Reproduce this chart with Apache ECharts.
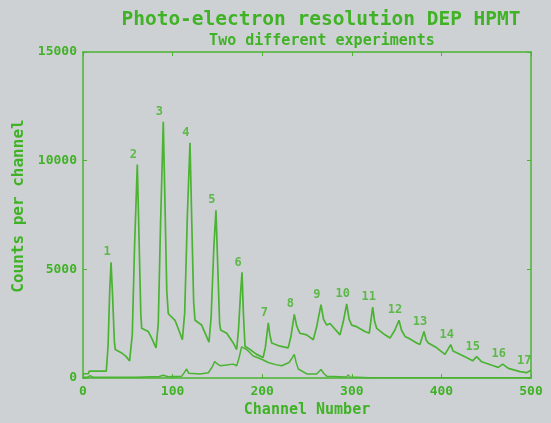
<!DOCTYPE html>
<html>
<head>
<meta charset="utf-8">
<script src="https://cdn.jsdelivr.net/npm/echarts@6/dist/echarts.min.js"></script>
<style>
html,body{margin:0;padding:0;background:#ced1d4;}
#c{width:551px;height:423px;}
</style>
</head>
<body>
<div id="c"></div>
<script>
// Upper spectrum (experiment 1)
var upperCh  = [0,6,7,26,28,29.8,31.3,33,35,36,42.7,48,52,55,57.5,60.6,62.5,64.5,65.5,72.9,77,81.5,84,86.5,89.6,91.5,93.5,95.2,102.7,107,110.9,113.5,116.5,119.4,121.5,123.5,125,132.4,137,140.6,143,146,148.4,150.5,152.5,153.6,160.4,167.7,171.5,173.5,176,177.5,179,180.8,186.4,193.8,201,203.5,206.8,208.5,210.6,219.9,229,232,235.8,238.5,240.3,242,249.7,257,261,265.6,268.5,272,275.7,286.8,290.5,294.3,297,299.9,305.4,314.7,319.5,323.3,325.5,327.8,337,342.6,348,352.7,355.5,359.4,365,372.4,376,380.6,383,385.4,394.8,404,410.4,413,415.2,428,434.9,439.4,445,458,463.5,468.4,474.7,487.7,495,500];
var upperVal = [200,200,320,320,1500,4000,5330,3800,1700,1320,1170,1000,790,2000,6000,9820,6500,3000,2290,2140,1800,1390,2500,7000,11795,8000,4000,2960,2660,2200,1765,3000,7500,10820,7000,3500,2660,2440,2000,1650,2800,6000,7720,5000,2500,2214,2065,1616,1316,2200,4000,4863,3000,1468,1316,1091,943,1400,2545,2000,1616,1468,1392,1900,2932,2400,2214,2065,1990,1765,2400,3381,2700,2438,2514,1990,2600,3412,2700,2438,2366,2142,2065,3264,2600,2290,1990,1841,2200,2663,2200,1916,1800,1616,1550,2140,1750,1616,1392,1091,1540,1250,1167,943,795,988,750,570,494,643,449,300,250,360];
// Lower spectrum (experiment 2)
var lowerCh  = [0,5,8,11,60,85,89.6,95,110,113,115.7,118,130.6,140,144,147,150,153,160,167.7,171.5,174,177,182.6,190,199.4,206.8,215,221.8,230,233,235.8,238,240.3,249.7,260.8,265.6,269,272,294,296,298,320,500];
var lowerVal = [40,40,110,40,40,70,130,60,80,250,420,220,193,250,500,760,650,570,600,643,570,900,1437,1316,1019,867,718,620,570,718,900,1090,700,418,193,193,400,200,90,45,150,45,20,20];
// Peak numbers and their peak positions
var peakNames = ['1','2','3','4','5','6','7','8','9','10','11','12','13','14','15','16','17'];
var peakCh  = [31.3,60.6,89.6,119.4,148.4,177.5,206.8,235.8,265.6,294.3,323.3,352.7,380.6,410.4,439.4,468.4,497];
var peakVal = [5330,9820,11795,10820,7720,4863,2545,2932,3381,3412,3264,2663,2140,1540,988,643,340];
var xTicks = [0,100,200,300,400,500];
var yTicks = [0,5000,10000,15000];

var green = '#4ab332';
var txt = '#40b226';
var mono = 'DejaVu Sans Mono';

function pairs(a,b){return a.map(function(v,i){return [v,b[i]];});}

var chart = echarts.init(document.getElementById('c'));
chart.setOption({
  backgroundColor: '#ced1d4',
  animation: false,
  title: [
    {text: 'Photo-electron resolution DEP HPMT', left: 316, top: 5, textAlign: 'center',
     textStyle: {fontFamily: mono, fontWeight: 'bold', fontSize: 19.5, color: txt}},
    {text: 'Two different experiments', left: 317, top: 29, textAlign: 'center',
     textStyle: {fontFamily: mono, fontWeight: 'bold', fontSize: 15, color: txt}}
  ],
  grid: {left: 83, right: 20, top: 52, bottom: 37, show: false},
  xAxis: [
    {type: 'value', min: 0, max: 500, interval: 100, position: 'bottom',
     name: 'Channel Number', nameLocation: 'middle', nameGap: 22,
     nameTextStyle: {fontFamily: mono, fontWeight: 'bold', fontSize: 15, color: txt},
     axisLine: {onZero: false, lineStyle: {color: green, width: 1.5}},
     axisTick: {inside: true, length: 4, lineStyle: {color: green}},
     axisLabel: {fontFamily: mono, fontWeight: 'bold', fontSize: 13, color: txt, margin: 7,
       formatter: function(v){return xTicks.indexOf(v) >= 0 ? String(v) : '';}},
     splitLine: {show: false}},
    {type: 'value', min: 0, max: 500, interval: 100, position: 'top',
     axisLine: {show: true, onZero: false, lineStyle: {color: green, width: 1.5}},
     axisTick: {show: true, inside: true, length: 4, lineStyle: {color: green}},
     axisLabel: {show: false}, splitLine: {show: false}}
  ],
  yAxis: [
    {type: 'value', min: 0, max: 15000, interval: 5000, position: 'left',
     name: 'Counts per channel', nameLocation: 'middle', nameGap: 52,
     nameTextStyle: {fontFamily: mono, fontWeight: 'bold', fontSize: 16, color: txt, padding: [0, 0, 0, 18]},
     axisLine: {show: true, onZero: false, lineStyle: {color: green, width: 1.5}},
     axisTick: {show: true, inside: true, length: 4, lineStyle: {color: green}},
     axisLabel: {fontFamily: mono, fontWeight: 'bold', fontSize: 13, color: txt, margin: 6,
       formatter: function(v){return yTicks.indexOf(v) >= 0 ? String(v) : '';}},
     splitLine: {show: false}},
    {type: 'value', min: 0, max: 15000, interval: 5000, position: 'right',
     axisLine: {show: true, onZero: false, lineStyle: {color: green, width: 1.5}},
     axisTick: {show: true, inside: true, length: 4, lineStyle: {color: green}},
     axisLabel: {show: false}, splitLine: {show: false}}
  ],
  series: [
    {type: 'line', data: pairs(upperCh, upperVal), showSymbol: false, symbol: 'none',
     lineStyle: {color: green, width: 1.7}, z: 3},
    {type: 'line', data: pairs(lowerCh, lowerVal), showSymbol: false, symbol: 'none',
     lineStyle: {color: green, width: 1.5}, z: 2},
    {type: 'scatter', symbolSize: 0, silent: true,
     data: peakCh.map(function(c,i){return {value: [c, peakVal[i]], name: peakNames[i]};}),
     label: {show: true, position: 'top', distance: 4, offset: [-4, 0],
       formatter: function(p){return p.name;},
       fontFamily: mono, fontWeight: 'bold', fontSize: 12, color: txt}, z: 4}
  ]
});
</script>
</body>
</html>
